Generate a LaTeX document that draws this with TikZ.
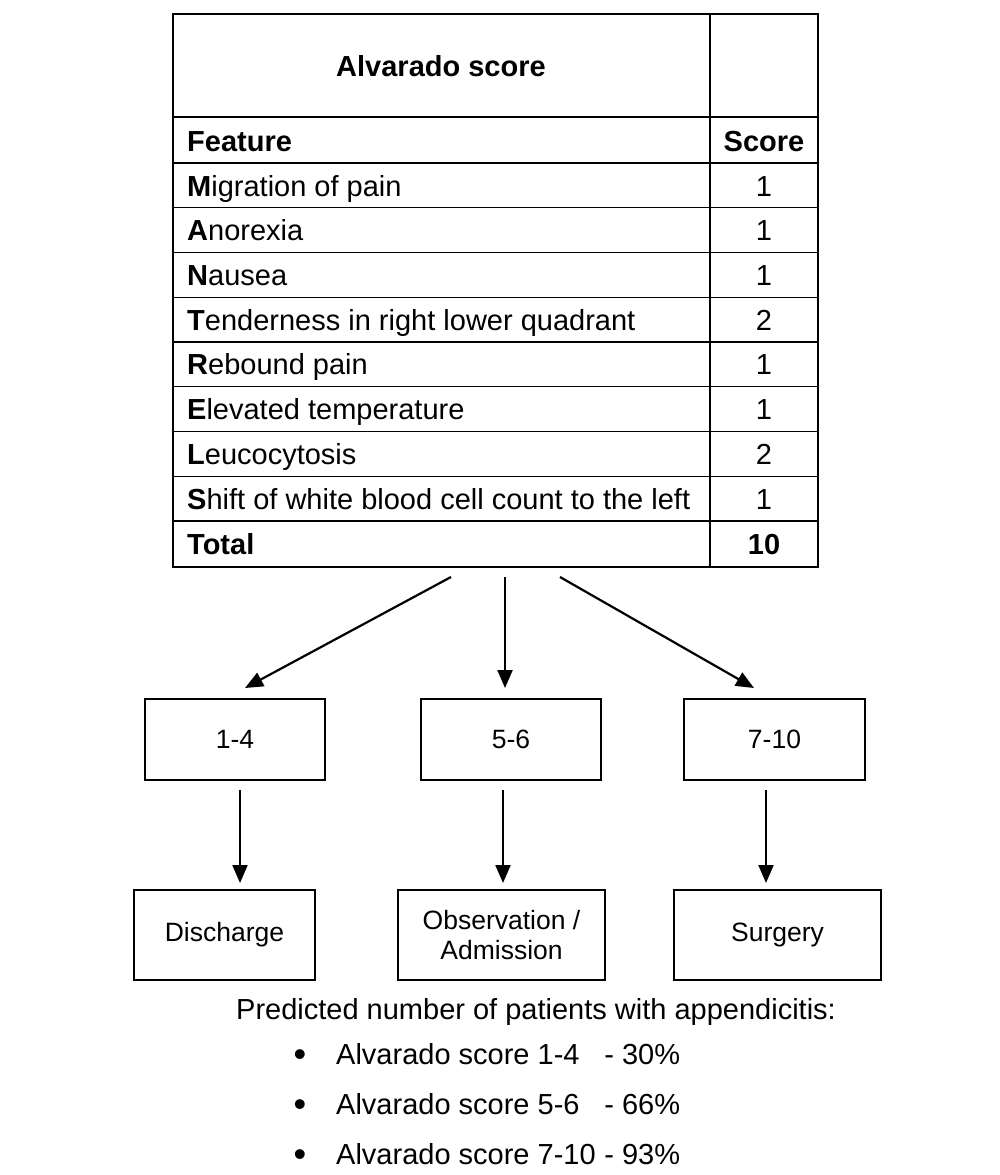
\documentclass[tikz,border=0pt]{standalone}
\usepackage{fontspec}
\setmainfont{Liberation Sans}
\usetikzlibrary{arrows.meta}
\begin{document}
\begin{tikzpicture}[x=1pt,y=-1pt,
  outer/.style={line width=2.4pt},
  inner/.style={line width=1.3pt},
  txt/.style={font=\fontsize{29}{34}\selectfont, inner sep=0pt},
  boxtxt/.style={font=\fontsize{26.5}{30}\selectfont, align=center},
  arr/.style={line width=2.2pt, -{Triangle[length=18pt,width=15pt]}},
  box/.style={draw, line width=2pt, inner sep=0pt, anchor=north west, boxtxt}]
\useasboundingbox (0,0) rectangle (1000,1175);
\fill[white] (0,0) rectangle (1000,1175);

% table grid
\draw[outer] (173,14) rectangle (818,567);
\draw[outer] (710,14) -- (710,567);
\draw[outer] (173,117) -- (818,117);
\draw[outer] (173,163) -- (818,163);
\draw[outer] (173,521) -- (818,521);
\foreach \k in {1,...,7} {
  \draw[inner] (173,{163+44.75*\k}) -- (818,{163+44.75*\k});
}

% table text
\node[txt, anchor=base] (title) at (441,76) {\textbf{Alvarado score}};
\node[txt, anchor=base west] (feat) at (187,151) {\textbf{Feature}};
\node[txt, anchor=base] (scoreh) at (764,151) {\textbf{Score}};

\node[txt, anchor=base west] (r1) at (187,196) {\textbf{M}igration of pain};
\node[txt, anchor=base west] (r2) at (187,240.6) {\textbf{A}norexia};
\node[txt, anchor=base west] (r3) at (187,285.4) {\textbf{N}ausea};
\node[txt, anchor=base west] (r4) at (187,330.1) {\textbf{T}enderness in right lower quadrant};
\node[txt, anchor=base west] (r5) at (187,374.9) {\textbf{R}ebound pain};
\node[txt, anchor=base west] (r6) at (187,419.6) {\textbf{E}levated temperature};
\node[txt, anchor=base west] (r7) at (187,464.4) {\textbf{L}eucocytosis};
\node[txt, anchor=base west] (r8) at (187,509.1) {\textbf{S}hift of white blood cell count to the left};
\node[txt, anchor=base west] (tot) at (187,554.5) {\textbf{Total}};

\node[txt, anchor=base] (s1) at (764,196) {1};
\node[txt, anchor=base] (s2) at (764,240.6) {1};
\node[txt, anchor=base] (s3) at (764,285.4) {1};
\node[txt, anchor=base] (s4) at (764,330.1) {2};
\node[txt, anchor=base] (s5) at (764,374.9) {1};
\node[txt, anchor=base] (s6) at (764,419.6) {1};
\node[txt, anchor=base] (s7) at (764,464.4) {2};
\node[txt, anchor=base] (s8) at (764,509.1) {1};
\node[txt, anchor=base] (stot) at (764,554.5) {\textbf{10}};

% range boxes
\node[box, minimum width=180pt, minimum height=81pt] (b1) at (144,698) {1-4};
\node[box, minimum width=180pt, minimum height=81pt] (b2) at (420,698) {5-6};
\node[box, minimum width=181pt, minimum height=81pt] (b3) at (683,698) {7-10};

% outcome boxes
\node[box, minimum width=181pt, minimum height=90pt] (o1) at (133,889) {Discharge};
\node[box, minimum width=207pt, minimum height=90pt] (o2) at (397,889) {Observation /\\Admission};
\node[box, minimum width=207pt, minimum height=90pt] (o3) at (673,889) {Surgery};

% arrow end points
\coordinate (a1s) at (451,577);
\coordinate (a2s) at (505,577);
\coordinate (a3s) at (560,577);
\coordinate (a1e) at (245,688);
\coordinate (a2e) at (505,688);
\coordinate (a3e) at (754,688);
\coordinate (c1s) at (240,790);
\coordinate (c2s) at (503,790);
\coordinate (c3s) at (766,790);
\coordinate (c1e) at (240,883);
\coordinate (c2e) at (503,883);
\coordinate (c3e) at (766,883);

\draw[arr] (a1s) -- (a1e);
\draw[arr] (a2s) -- (a2e);
\draw[arr] (a3s) -- (a3e);
\draw[arr] (c1s) -- (c1e);
\draw[arr] (c2s) -- (c2e);
\draw[arr] (c3s) -- (c3e);

% bottom text
\node[txt, anchor=base west] (pred) at (236,1019) {Predicted number of patients with appendicitis:};
\node[txt, anchor=base, font=\fontsize{36}{40}\selectfont] (d1) at (300,1066) {\textbullet};
\node[txt, anchor=base, font=\fontsize{36}{40}\selectfont] (d2) at (300,1116) {\textbullet};
\node[txt, anchor=base, font=\fontsize{36}{40}\selectfont] (d3) at (300,1166) {\textbullet};
\node[txt, anchor=base west] (l1) at (336,1064) {\makebox[344pt][l]{Alvarado score 1-4\hfill- 30\%}};
\node[txt, anchor=base west] (l2) at (336,1114) {\makebox[344pt][l]{Alvarado score 5-6\hfill- 66\%}};
\node[txt, anchor=base west] (l3) at (336,1164) {\makebox[344pt][l]{Alvarado score 7-10\hfill- 93\%}};
\end{tikzpicture}
\end{document}
